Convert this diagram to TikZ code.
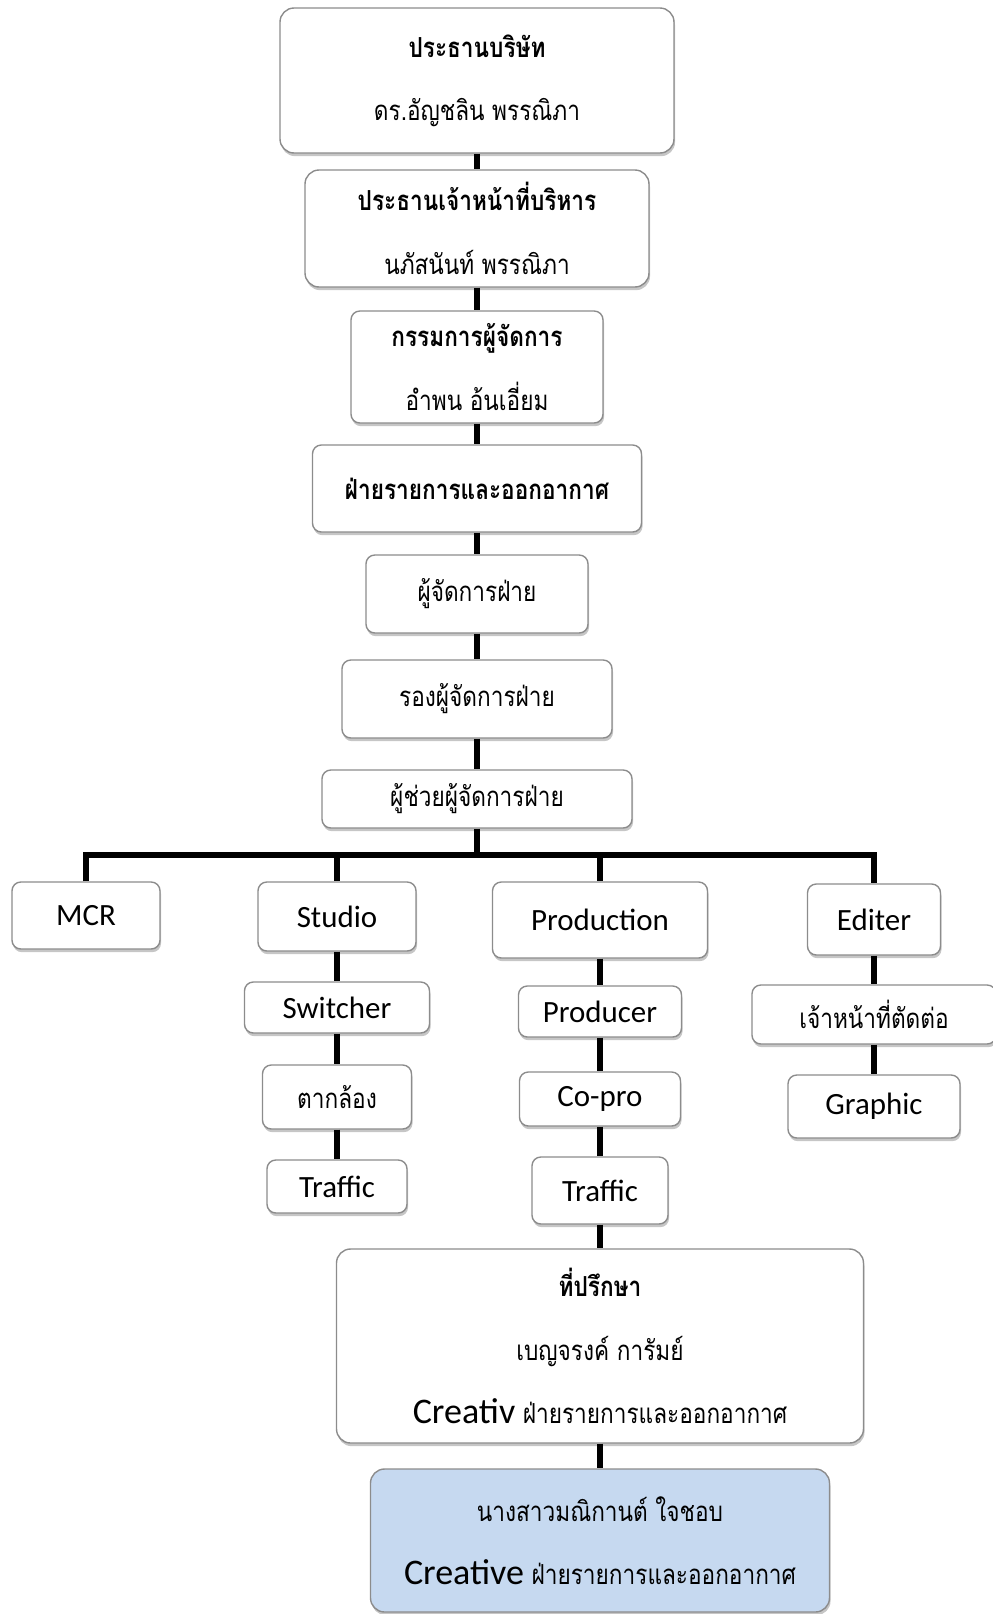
\documentclass[tikz,border=0pt]{standalone}
\usepackage{fontspec}
\setmainfont{Carlito}
\newfontfamily\thai[Script=Thai,FakeStretch=0.82]{Loma}
\usetikzlibrary{shadows}
\colorlet{boxline}{black!45}
\definecolor{creablue}{RGB}{198,217,240}
\newdimen\pxu
\pxu=0.02cm

\begin{document}
\begin{tikzpicture}[x=0.02cm,y=-0.02cm,
    box/.style={draw=boxline, line width=0.8pt, fill=white, rounded corners=5pt,
        drop shadow={shadow xshift=0.6pt, shadow yshift=-1.8pt, opacity=0.45},
        align=center, inner sep=0pt},
    bigbox/.style={box, rounded corners=8pt},
    thaitxt/.style={font=\thai\fontsize{15.7}{36}\selectfont},
    latintxt/.style={font=\fontsize{17.6}{21}\selectfont},
    link/.style={line width=3pt}]
    \useasboundingbox (0,0) rectangle (993,1614);
    % top of the chart
    \node[bigbox, thaitxt, minimum width=394\pxu, minimum height=145\pxu] (chair) at (477,80.5)
        {\textbf{ประธานบริษัท}\\ดร.อัญชลิน พรรณิภา};
    \node[bigbox, thaitxt, minimum width=344\pxu, minimum height=117\pxu] (ceo) at (477,228.5)
        {\textbf{ประธานเจ้าหน้าที่บริหาร}\\นภัสนันท์ พรรณิภา};
    \node[box, thaitxt, minimum width=252\pxu, minimum height=112\pxu] (md) at (477,367)
        {\textbf{กรรมการผู้จัดการ}\\อำพน อ้นเอี่ยม};
    \node[box, thaitxt, minimum width=329\pxu, minimum height=87\pxu] (dept) at (477,488.5)
        {\textbf{ฝ่ายรายการและออกอากาศ}};
    \node[box, thaitxt, minimum width=222\pxu, minimum height=78\pxu] (mgr) at (477,594) {ผู้จัดการฝ่าย};
    \node[box, thaitxt, minimum width=270\pxu, minimum height=78\pxu] (dmgr) at (477,699) {รองผู้จัดการฝ่าย};
    \node[box, thaitxt, minimum width=310\pxu, minimum height=58\pxu] (amgr) at (477,799) {ผู้ช่วยผู้จัดการฝ่าย};
    % sections
    \node[box, latintxt, minimum width=148\pxu, minimum height=67\pxu] (mcr) at (86,915.5) {MCR};
    \node[box, latintxt, minimum width=158\pxu, minimum height=69\pxu] (studio) at (337,916.5) {Studio};
    \node[box, latintxt, minimum width=185\pxu, minimum height=51\pxu] (switcher) at (337,1007.5) {Switcher};
    \node[box, thaitxt, minimum width=149\pxu, minimum height=64\pxu] (camera) at (337,1097) {ตากล้อง};
    \node[box, latintxt, minimum width=140\pxu, minimum height=53\pxu] (trafficA) at (337,1186.5) {Traffic};
    \node[box, latintxt, minimum width=215\pxu, minimum height=76\pxu] (prod) at (600,920) {Production};
    \node[box, latintxt, minimum width=163\pxu, minimum height=51\pxu] (producer) at (600,1011.5) {Producer};
    \node[box, latintxt, minimum width=161\pxu, minimum height=54\pxu] (copro) at (600,1099) {Co-pro};
    \node[box, latintxt, minimum width=136\pxu, minimum height=67\pxu] (trafficB) at (600,1190.5) {Traffic};
    \node[box, latintxt, minimum width=133\pxu, minimum height=71\pxu] (editer) at (874,919.5) {Editer};
    \node[box, thaitxt, minimum width=244\pxu, minimum height=59\pxu] (cutter) at (874,1014.5) {เจ้าหน้าที่ตัดต่อ};
    \node[box, latintxt, minimum width=172\pxu, minimum height=63\pxu] (graphic) at (874,1106.5) {Graphic};
    % advisor and creative
    \node[bigbox, thaitxt, minimum width=527\pxu, minimum height=194\pxu] (advisor) at (600,1346)
        {\textbf{ที่ปรึกษา}\\เบญจรงค์ การัมย์\\{\normalfont\fontsize{20.5}{24}\selectfont Creativ} ฝ่ายรายการและออกอากาศ};
    \node[bigbox, thaitxt, fill=creablue, minimum width=459\pxu, minimum height=143\pxu] (creative) at (600,1540.5)
        {นางสาวมณิกานต์ ใจชอบ\\{\normalfont\fontsize{20.5}{24}\selectfont Creative} ฝ่ายรายการและออกอากาศ};
    % connectors
    \coordinate (bus) at (477,855);
    \draw[link] (chair) -- (ceo) -- (md) -- (dept) -- (mgr) -- (dmgr) -- (amgr) -- (bus);
    \draw[link] (mcr.north) -- (mcr.north |- bus) -- (editer.north |- bus) -- (editer.north);
    \foreach \n in {studio,prod}
        \draw[link] (\n |- bus) -- (\n.north);
    \draw[link] (studio) -- (switcher) -- (camera) -- (trafficA);
    \draw[link] (prod) -- (producer) -- (copro) -- (trafficB) -- (advisor) -- (creative);
    \draw[link] (editer) -- (cutter) -- (graphic);
\end{tikzpicture}
\end{document}
